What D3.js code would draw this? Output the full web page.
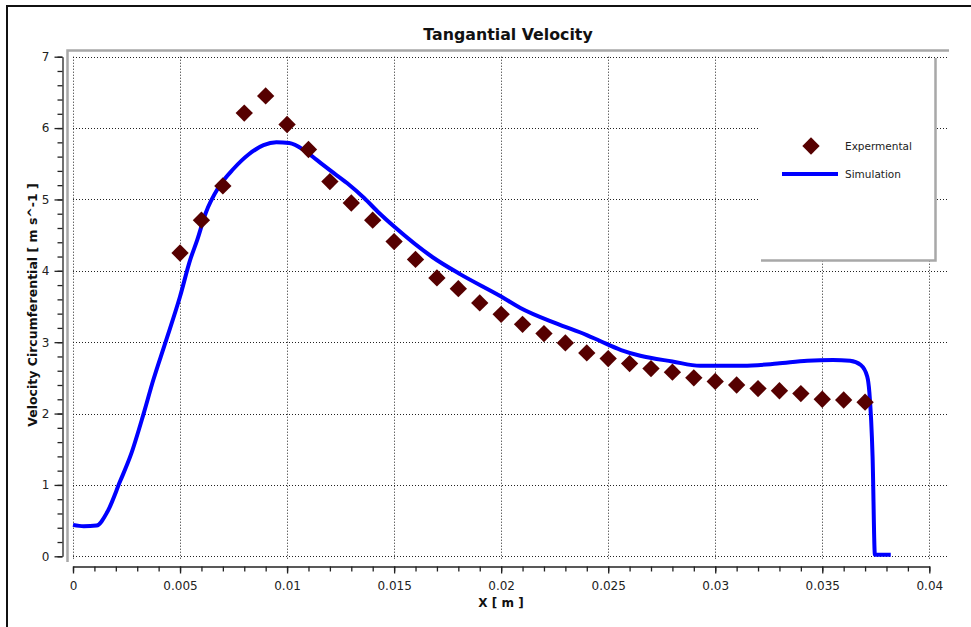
<!DOCTYPE html>
<html>
<head>
<meta charset="utf-8">
<script src="https://cdn.jsdelivr.net/npm/d3@7"></script>
<style>
  body { margin: 0; background: #fff; }
  svg { display: block; }
</style>
</head>
<body>
<div id="chart"></div>
<script>
// experimental points (x in m, velocity in m/s)
const expX = [0.005, 0.006, 0.007, 0.008, 0.009, 0.010, 0.011, 0.012, 0.013, 0.014, 0.015,
    0.016, 0.017, 0.018, 0.019, 0.020, 0.021, 0.022, 0.023, 0.024, 0.025, 0.026,
    0.027, 0.028, 0.029, 0.030, 0.031, 0.032, 0.033, 0.034, 0.035, 0.036, 0.037];
const expY = [4.25, 4.71, 5.19, 6.21, 6.45, 6.05, 5.70, 5.25, 4.95, 4.71, 4.41,
    4.16, 3.90, 3.75, 3.55, 3.39, 3.25, 3.12, 2.99, 2.85, 2.77, 2.70,
    2.63, 2.58, 2.50, 2.45, 2.40, 2.35, 2.32, 2.28, 2.20, 2.19, 2.16];

// simulation curve
const simX = [0, 0.0005, 0.0011, 0.0016, 0.0022, 0.0027, 0.0033, 0.00375, 0.0043, 0.005,
    0.00547, 0.0058, 0.0062, 0.0068, 0.0075, 0.0082, 0.0089, 0.0095, 0.0101, 0.0108,
    0.0114, 0.012, 0.0128, 0.0136, 0.0143, 0.015, 0.0168, 0.0181, 0.02, 0.0209,
    0.0226, 0.024, 0.0246, 0.0256, 0.0265, 0.028, 0.0293, 0.0313, 0.0329, 0.0343,
    0.0355, 0.0363, 0.0368, 0.0371, 0.0372, 0.03735, 0.03746, 0.0382];
const simY = [0.44, 0.42, 0.43, 0.62, 1.05, 1.42, 2.00, 2.47, 2.98, 3.64,
    4.15, 4.43, 4.81, 5.17, 5.43, 5.63, 5.76, 5.80, 5.79, 5.69,
    5.55, 5.41, 5.23, 5.02, 4.81, 4.62, 4.19, 3.95, 3.64, 3.48,
    3.26, 3.10, 3.02, 2.89, 2.81, 2.73, 2.67, 2.67, 2.70, 2.74,
    2.75, 2.74, 2.68, 2.52, 2.30, 1.40, 0.02, 0.02];

const xTicks = [0, 0.005, 0.01, 0.015, 0.02, 0.025, 0.03, 0.035, 0.04];
const xTickLabels = ["0", "0.005", "0.01", "0.015", "0.02", "0.025", "0.03", "0.035", "0.04"];
const yTicks = [0, 1, 2, 3, 4, 5, 6, 7];
const yTickLabels = ["0", "1", "2", "3", "4", "5", "6", "7"];
const seriesNames = ["Expermental", "Simulation"];

const width = 971, height = 627;
const svg = d3.select("#chart").append("svg")
    .attr("width", width)
    .attr("height", height);

const x = d3.scaleLinear().domain([0, 0.04]).range([73, 929.3]);
const y = d3.scaleLinear().domain([0, 7]).range([556.3, 56.7]);

//outer frame (only top and left show)
svg.append("path")
    .attr("d", `M7,${height}V6H${width}`)
    .attr("fill", "none")
    .attr("stroke", "#111")
    .attr("stroke-width", 2);

//title
svg.append("text")
    .attr("x", 508).attr("y", 40)
    .attr("text-anchor", "middle")
    .style("font", "bold 15.8px 'DejaVu Sans'")
    .attr("fill", "#111")
    .text("Tangantial Velocity");

//plot frame bevel
svg.append("path")
    .attr("d", "M67.5,562V50.5H949")
    .attr("fill", "none")
    .attr("stroke", "#a8a8a8")
    .attr("stroke-width", 2.5);

//grid
const grid = svg.append("g");
grid.selectAll(".hg").data(yTicks).enter().append("line")
    .attr("x1", x(0)).attr("x2", 948)
    .attr("y1", d => Math.round(y(d)) + 0.5).attr("y2", d => Math.round(y(d)) + 0.5)
    .attr("stroke", "#222").attr("stroke-dasharray", "1,2");
grid.selectAll(".vg").data(xTicks).enter().append("line")
    .attr("y1", y(7)).attr("y2", y(0) + 4)
    .attr("x1", d => Math.round(x(d)) + 0.5).attr("x2", d => Math.round(x(d)) + 0.5)
    .attr("stroke", "#222").attr("stroke-dasharray", "1,2");

//axes
const axisFont = "12px 'DejaVu Sans'";
svg.append("g").attr("transform", "translate(62.5,0)")
    .call(d3.axisLeft(y).tickValues(yTicks).tickSize(8).tickSizeOuter(0).tickPadding(5)
        .tickFormat((d, i) => yTickLabels[i]));
svg.append("g").attr("transform", "translate(62.5,0)")
    .call(d3.axisLeft(y).tickValues(d3.range(0, 7.01, 0.2)).tickSize(5).tickFormat(""))
    .select(".domain").remove();

svg.append("g").attr("transform", "translate(0,566.5)")
    .call(d3.axisBottom(x).tickValues(xTicks).tickSize(7).tickSizeOuter(0).tickPadding(8)
        .tickFormat((d, i) => xTickLabels[i]));
svg.append("g").attr("transform", "translate(0,566.5)")
    .call(d3.axisBottom(x).tickValues(d3.range(0, 0.04001, 0.001)).tickSize(5).tickFormat(""))
    .select(".domain").remove();

svg.selectAll(".tick text").style("font", axisFont).attr("fill", "#222");
svg.selectAll(".domain, .tick line").attr("stroke", "#222").attr("stroke-width", 1.3);

//axis titles
svg.append("text")
    .attr("x", 501).attr("y", 607)
    .attr("text-anchor", "middle")
    .style("font", "bold 12px 'DejaVu Sans'")
    .attr("fill", "#111")
    .text("X [ m ]");
svg.append("text")
    .attr("transform", "translate(37,305) rotate(-90)")
    .attr("text-anchor", "middle")
    .style("font", "bold 12.5px 'DejaVu Sans'")
    .attr("fill", "#111")
    .text("Velocity Circumferential [ m s^-1 ]");

//simulation line
const simData = simX.map((d, i) => ({ x: d, y: simY[i] }));
const line = d3.line()
    .x(d => x(d.x))
    .y(d => y(d.y))
    .curve(d3.curveMonotoneX);
svg.append("path")
    .datum(simData)
    .attr("d", line)
    .attr("fill", "none")
    .attr("stroke", "#0000ff")
    .attr("stroke-width", 4)
    .attr("stroke-linejoin", "round");

//experimental diamonds
const diamond = d3.symbol().type(d3.symbolSquare).size(150);
const expData = expX.map((d, i) => ({ x: d, y: expY[i] }));
svg.selectAll(".exp").data(expData).enter().append("path")
    .attr("d", diamond)
    .attr("transform", d => `translate(${x(d.x)},${y(d.y)}) rotate(45)`)
    .attr("fill", "#560000");

//legend
const legend = svg.append("g");
legend.append("rect")
    .attr("x", 758).attr("y", 58).attr("width", 177).attr("height", 203)
    .attr("fill", "#fff");
legend.append("path")
    .attr("d", "M761,260.5H935.5V58")
    .attr("fill", "none")
    .attr("stroke", "#a8a8a8")
    .attr("stroke-width", 2.5);
legend.append("path")
    .attr("d", diamond)
    .attr("transform", "translate(811,146) rotate(45)")
    .attr("fill", "#560000");
legend.append("line")
    .attr("x1", 782).attr("x2", 838).attr("y1", 174).attr("y2", 174)
    .attr("stroke", "#0000ff").attr("stroke-width", 4);
legend.selectAll(".lt").data(seriesNames).enter().append("text")
    .attr("x", 845).attr("y", (d, i) => 146 + i * 28)
    .attr("dy", "0.35em")
    .style("font", "10.5px 'DejaVu Sans'")
    .attr("fill", "#222")
    .text(d => d);
</script>
</body>
</html>
